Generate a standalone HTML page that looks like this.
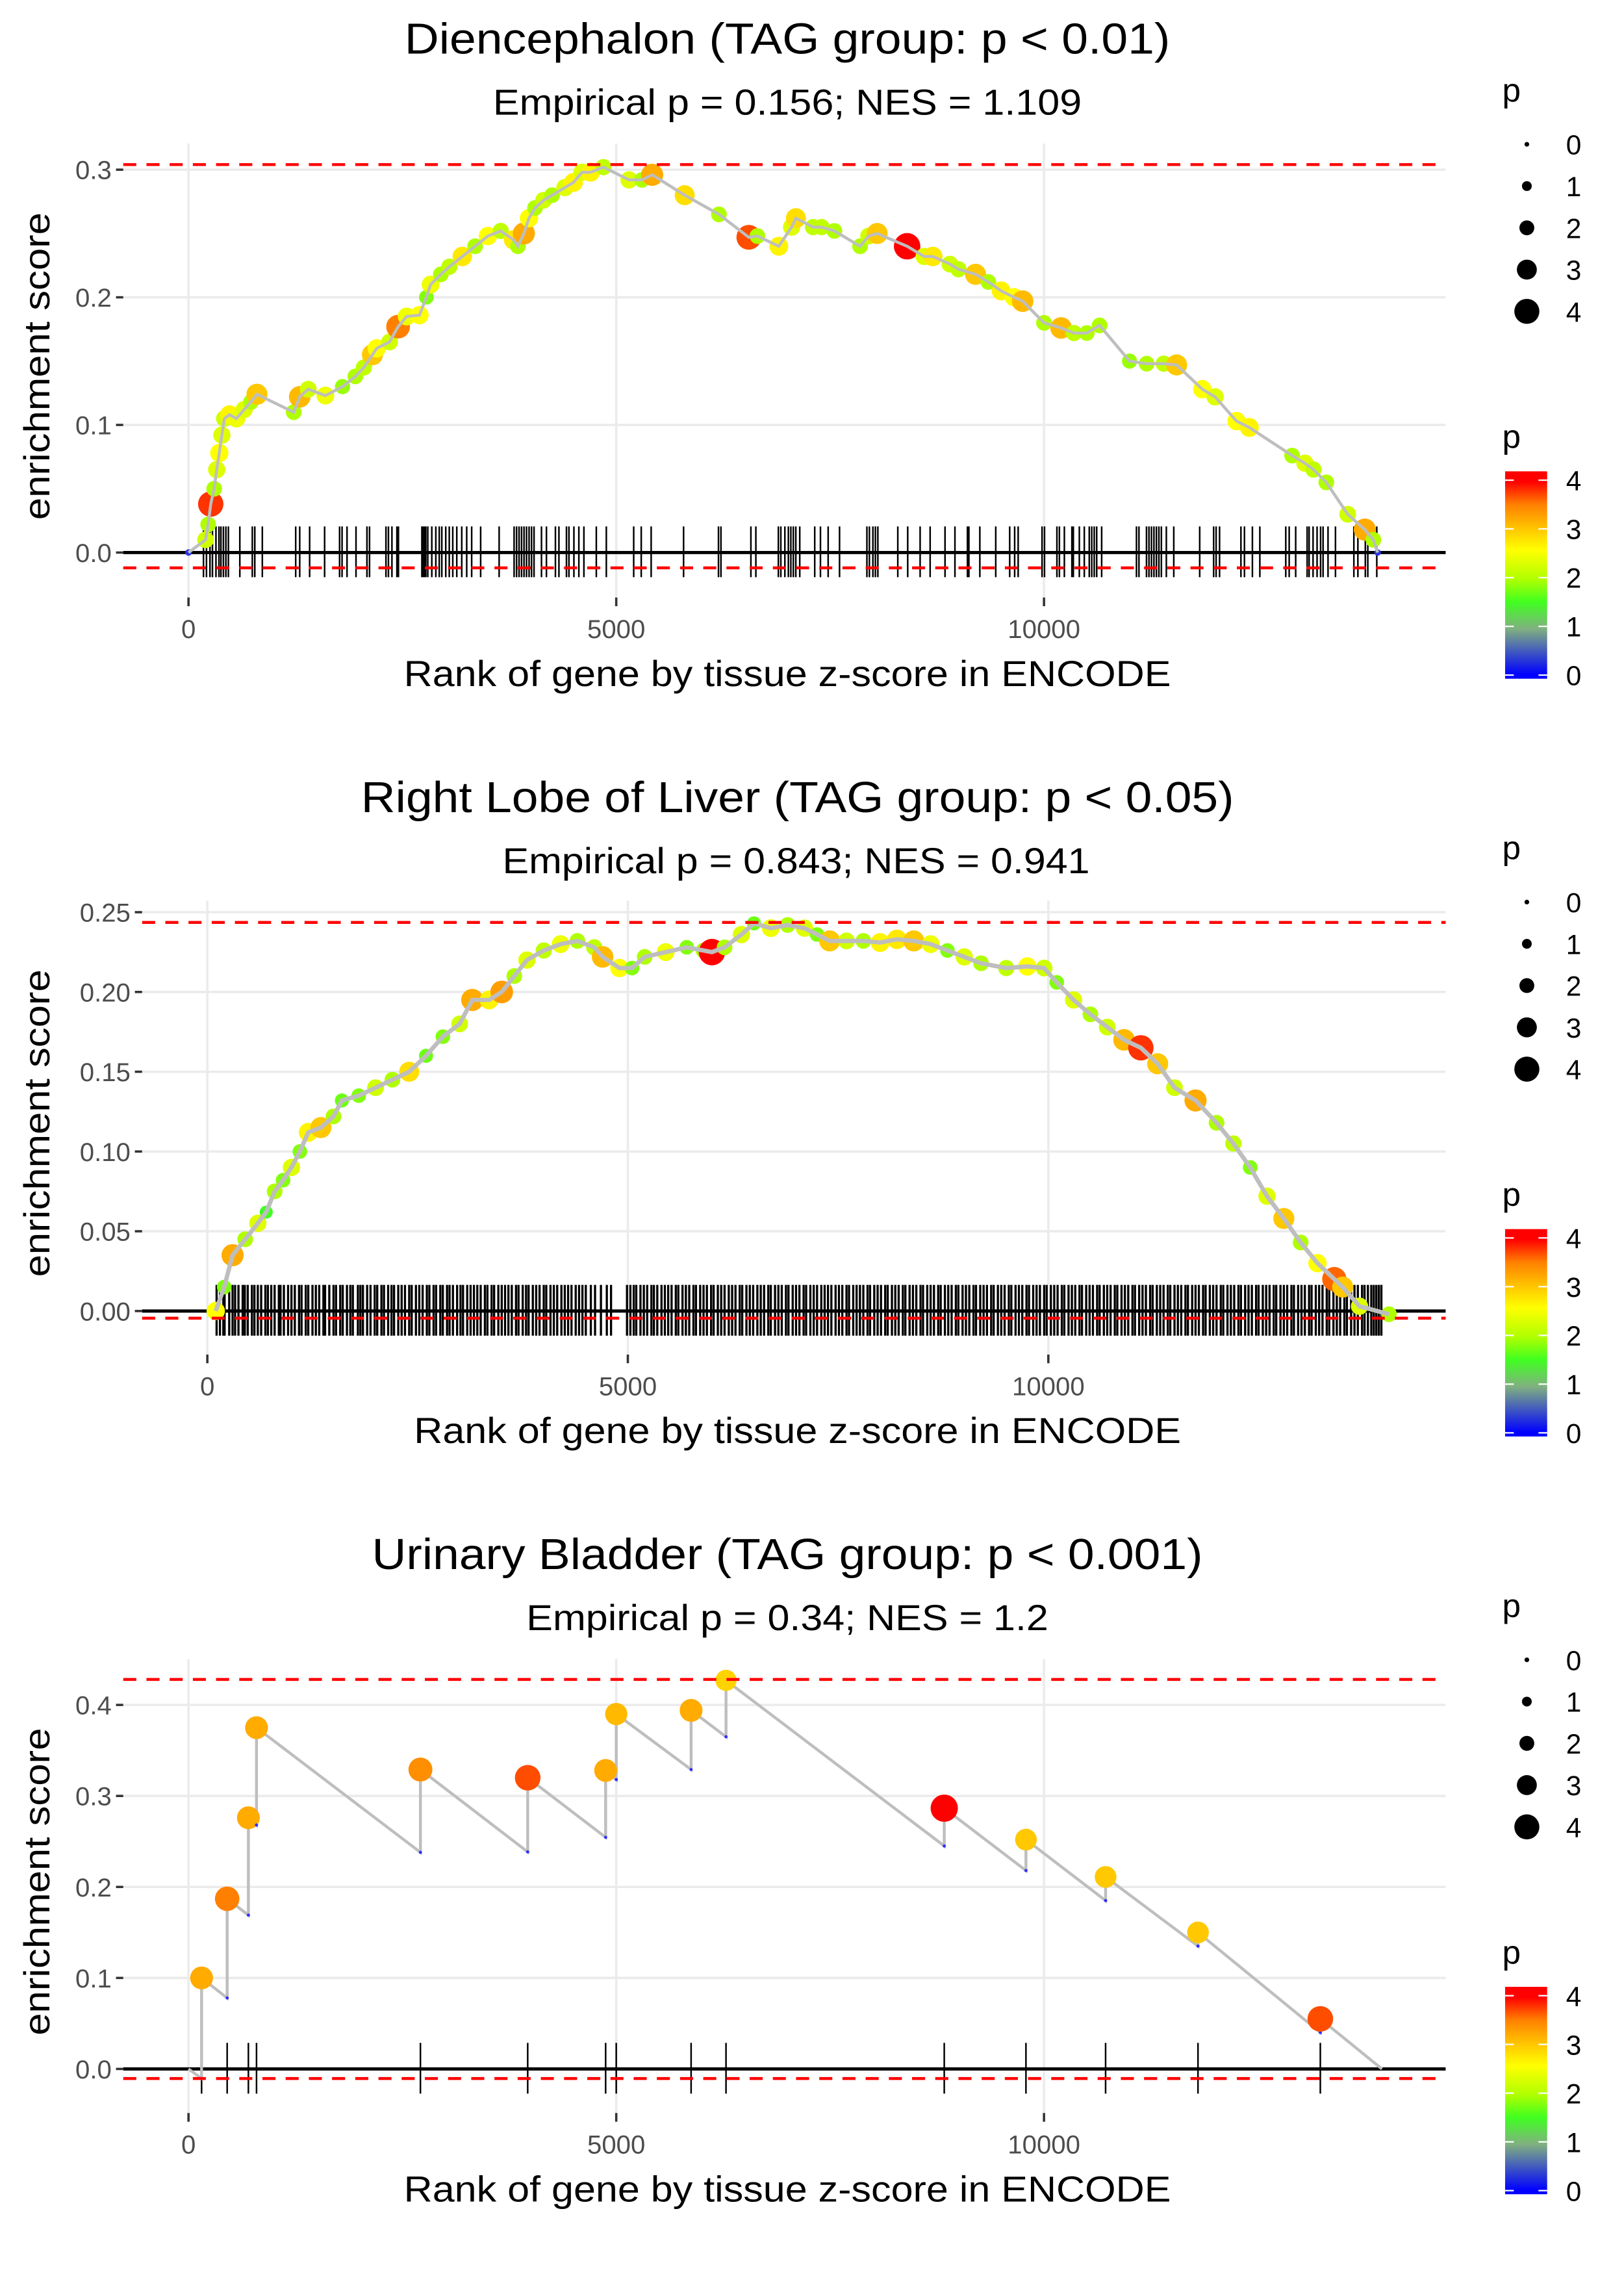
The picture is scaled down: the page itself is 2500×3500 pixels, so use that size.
<!DOCTYPE html>
<html><head><meta charset="utf-8"><title>Enrichment plots</title>
<style>
html,body{margin:0;padding:0;background:#fff;}
svg{display:block;font-family:"Liberation Sans",Arial,sans-serif;}
</style></head>
<body>
<svg id="chart" xmlns="http://www.w3.org/2000/svg" width="2500" height="3500" viewBox="0 0 1120 1568" preserveAspectRatio="none">
<defs>
<linearGradient id="pgrad" x1="0" y1="0" x2="0" y2="1">
<stop offset="0" stop-color="#ff0000"/>
<stop offset="0.05" stop-color="#ff0000"/>
<stop offset="0.16" stop-color="#ff8000"/>
<stop offset="0.28" stop-color="#ffc800"/>
<stop offset="0.38" stop-color="#ffff00"/>
<stop offset="0.52" stop-color="#b0ff00"/>
<stop offset="0.63" stop-color="#40ff20"/>
<stop offset="0.76" stop-color="#80b080"/>
<stop offset="0.98" stop-color="#0000ff"/>
<stop offset="1" stop-color="#0000ff"/>
</linearGradient>
</defs>
</svg>
<script>
// ---------------- Panel 1: Diencephalon ----------------
const p1Ranks = [0,200,230,260,300,330,360,390,420,480,560,650,730,800,1230,1300,1400,1600,1800,1950,2050,2150,2200,2350,2450,2550,2700,2780,2830,2950,3050,3200,3350,3500,3650,3800,3850,3920,3980,4050,4150,4250,4400,4500,4600,4700,4850,5150,5300,5420,5800,6200,6550,6650,6900,7050,7100,7300,7400,7550,7850,7950,8050,8400,8600,8700,8900,9000,9200,9350,9500,9650,9750,10000,10200,10350,10500,10650,11000,11200,11400,11550,11850,12000,12250,12400,12900,13050,13150,13300,13550,13750,13850,13900];
const p1ES = [0,0.01,0.022,0.038,0.05,0.065,0.078,0.092,0.105,0.108,0.105,0.112,0.118,0.124,0.11,0.122,0.128,0.123,0.13,0.138,0.145,0.155,0.16,0.165,0.177,0.185,0.186,0.2,0.21,0.218,0.224,0.232,0.24,0.248,0.252,0.245,0.24,0.25,0.262,0.27,0.276,0.28,0.286,0.29,0.298,0.298,0.302,0.292,0.292,0.296,0.28,0.265,0.247,0.248,0.24,0.255,0.262,0.255,0.255,0.252,0.24,0.248,0.25,0.24,0.232,0.232,0.226,0.222,0.218,0.212,0.205,0.2,0.197,0.18,0.176,0.172,0.172,0.178,0.15,0.148,0.148,0.147,0.128,0.122,0.103,0.098,0.076,0.07,0.065,0.055,0.03,0.018,0.01,0.0];
const p1P = [0.3,2.2,2.0,3.8,2.0,2.3,2.5,2.3,2.2,2.6,2.4,2.3,2.0,3.0,2.0,3.1,2.2,2.4,1.9,2.0,2.1,3.0,2.5,2.2,3.5,2.4,2.5,1.8,2.4,2.0,2.1,2.7,2.0,2.5,2.1,2.7,2.0,3.2,2.5,2.0,2.2,2.0,2.3,2.6,2.3,2.6,2.1,2.3,2.0,3.2,2.8,2.0,3.7,2.0,2.6,2.3,2.8,2.1,2.1,2.0,2.0,2.2,3.0,4.0,2.3,2.7,2.2,2.1,3.0,2.0,2.6,2.5,3.1,2.0,3.1,2.1,2.0,2.0,1.9,2.0,2.1,3.0,2.5,2.3,2.5,2.6,2.0,2.3,2.1,2.0,2.2,3.2,2.0,0.3];
const p1Rug = [175,210,251,280,321,356,379,408,437,466,600,746,775,863,1253,1300,1416,1591,1766,1795,1853,1958,2086,2116,2308,2337,2378,2436,2454,2728,2739,2757,2774,2797,2844,2891,2931,2961,3007,3048,3089,3136,3194,3252,3310,3415,3631,3806,3835,3864,3893,3922,3951,3981,4010,4039,4126,4184,4289,4330,4418,4447,4505,4563,4622,4767,4884,5204,5292,5408,5787,6195,6224,6574,6632,6895,6924,6971,7012,7041,7070,7099,7145,7320,7387,7477,7610,7930,7959,8000,8029,8058,8291,8407,8552,8669,8843,8959,9105,9122,9250,9436,9599,9657,9698,9977,10006,10151,10180,10238,10326,10343,10413,10471,10529,10558,10587,10616,10674,11081,11110,11198,11227,11256,11285,11314,11343,11372,11430,11517,11820,11983,12012,12052,12302,12343,12436,12523,12826,12866,12942,13076,13099,13145,13192,13233,13262,13320,13407,13622,13669,13756,13785,13890];
const p1XTicks = [0,5000,10000];
const p1XLabels = ["0","5000","10000"];
const p1YTicks = [0,0.1,0.2,0.3];
const p1YLabels = ["0.0","0.1","0.2","0.3"];
const p1Ref = [0.304,-0.012];

// ---------------- Panel 2: Right Lobe of Liver ----------------
const p2Ranks = [100,200,300,450,600,700,800,900,1000,1100,1200,1350,1500,1600,1800,2000,2200,2400,2600,2800,3000,3150,3350,3500,3650,3800,4000,4200,4400,4600,4700,4900,5050,5200,5450,5700,5900,6000,6150,6350,6500,6700,6900,7100,7250,7400,7600,7800,8000,8200,8400,8600,8800,9000,9200,9500,9750,9950,10100,10300,10500,10700,10900,11100,11300,11500,11750,12000,12200,12400,12600,12800,13000,13200,13400,13500,13700,14050];
const p2ES = [0.0,0.015,0.035,0.045,0.055,0.062,0.075,0.082,0.09,0.1,0.112,0.115,0.122,0.132,0.135,0.14,0.145,0.15,0.16,0.172,0.18,0.195,0.195,0.2,0.21,0.22,0.226,0.23,0.232,0.228,0.222,0.215,0.215,0.222,0.225,0.228,0.226,0.225,0.228,0.236,0.243,0.24,0.242,0.24,0.236,0.232,0.232,0.232,0.231,0.233,0.232,0.23,0.226,0.222,0.218,0.215,0.216,0.215,0.206,0.195,0.186,0.178,0.17,0.165,0.155,0.14,0.132,0.118,0.105,0.09,0.072,0.058,0.043,0.03,0.02,0.015,0.003,-0.002];
const p2P = [2.5,1.8,3.2,2.0,2.3,1.5,2.0,1.8,2.3,1.8,2.6,3.0,2.0,1.7,1.8,2.2,2.0,2.8,1.7,1.8,2.2,3.2,2.6,3.3,2.0,2.3,2.1,2.4,2.0,2.1,3.1,2.5,1.8,2.0,2.4,1.8,2.0,4.0,2.0,2.3,1.7,2.4,2.0,2.3,1.8,3.0,2.2,2.0,2.6,2.7,3.0,2.4,1.8,2.3,2.0,2.1,2.5,2.2,1.8,2.3,2.0,2.2,3.1,3.8,3.0,2.2,3.2,2.0,2.1,1.8,2.3,3.0,2.0,2.5,3.6,3.0,2.3,2.0];
const p2Rug = [110,150,190,205,260,300,330,370,420,445,480,530,560,600,640,690,720,760,800,850,870,910,960,1000,1040,1090,1120,1170,1200,1250,1290,1330,1380,1400,1450,1500,1530,1580,1610,1660,1700,1730,1790,1820,1850,1900,1940,1990,2020,2070,2100,2150,2190,2220,2270,2310,2350,2400,2430,2480,2520,2560,2610,2640,2690,2720,2770,2800,2850,2880,2920,2970,3010,3040,3090,3130,3170,3210,3250,3300,3330,3380,3410,3460,3500,3540,3580,3620,3670,3700,3750,3790,3820,3870,3910,3950,4000,4030,4080,4120,4160,4210,4250,4290,4330,4380,4420,4460,4500,4560,4610,4680,4750,4800,4990,5030,5070,5100,5150,5190,5230,5280,5310,5350,5400,5440,5480,5520,5570,5600,5650,5690,5730,5780,5810,5860,5900,5940,5990,6020,6070,6110,6150,6200,6240,6280,6330,6360,6410,6450,6490,6540,6580,6620,6670,6700,6750,6790,6830,6880,6910,6960,7000,7040,7090,7120,7170,7210,7250,7300,7340,7380,7420,7470,7510,7550,7600,7630,7680,7720,7760,7800,7850,7880,7930,7970,8010,8060,8090,8140,8180,8220,8270,8300,8350,8390,8430,8480,8510,8560,8600,8640,8690,8720,8770,8810,8850,8900,8930,8980,9020,9060,9110,9140,9190,9230,9270,9320,9350,9400,9440,9480,9530,9560,9610,9650,9690,9740,9770,9820,9860,9900,9950,9980,10030,10070,10110,10160,10190,10240,10280,10320,10370,10400,10450,10490,10530,10580,10610,10660,10700,10740,10790,10820,10870,10910,10950,11000,11030,11080,11120,11160,11210,11240,11290,11330,11370,11420,11450,11500,11540,11580,11630,11660,11710,11750,11790,11840,11870,11920,11960,12000,12050,12080,12130,12170,12210,12260,12290,12340,12380,12420,12470,12500,12550,12590,12630,12680,12710,12760,12800,12840,12890,12920,12970,13010,13050,13100,13130,13180,13220,13260,13310,13340,13390,13430,13470,13520,13550,13600,13640,13680,13730,13760,13800,13840,13870,13900,13930,13960];
const p2XTicks = [0,5000,10000];
const p2XLabels = ["0","5000","10000"];
const p2YTicks = [0,0.05,0.10,0.15,0.20,0.25];
const p2YLabels = ["0.00","0.05","0.10","0.15","0.20","0.25"];
const p2Ref = [0.2436,-0.0045];

// ---------------- Panel 3: Urinary Bladder ----------------
const p3Ranks = [153,452,700,795,2711,3965,4876,5000,5875,6283,8834,9789,10720,11800,13230];
const p3ESTop = [0.10,0.187,0.276,0.375,0.329,0.32,0.328,0.39,0.394,0.427,0.2865,0.252,0.211,0.15,0.055];
const p3ESBefore = [-0.0105,0.078,0.169,0.268,0.238,0.2385,0.2545,0.318,0.329,0.365,0.245,0.218,0.185,0.135,0.04];
const p3P = [3.2,3.5,3.2,3.2,3.4,3.7,3.2,3.1,3.2,2.9,4.0,3.0,3.0,3.0,3.7];
const p3End = [13950,0.0];
const p3XTicks = [0,5000,10000];
const p3XLabels = ["0","5000","10000"];
const p3YTicks = [0,0.1,0.2,0.3,0.4];
const p3YLabels = ["0.0","0.1","0.2","0.3","0.4"];
const p3Ref = [0.428,-0.0105];

// legend data
const legendValues = [0,1,2,3,4];
const legendLabels = ["0","1","2","3","4"];

const NS = "http://www.w3.org/2000/svg";
const svg = document.getElementById("chart");

function mk(tag, attrs, parent){
  const e = document.createElementNS(NS, tag);
  for (const k in attrs) e.setAttribute(k, attrs[k]);
  (parent||svg).appendChild(e);
  return e;
}
const stops = [[0,[0,0,255]],[0.5,[70,90,200]],[1,[128,176,128]],[1.5,[64,255,32]],[2,[176,255,0]],[2.5,[255,255,0]],[3,[255,200,0]],[3.5,[255,128,0]],[4,[255,0,0]]];
function pColor(p){
  p = Math.max(0, Math.min(4, p));
  for (let i=0;i<stops.length-1;i++){
    const a=stops[i], b=stops[i+1];
    if (p<=b[0]){
      const t=(p-a[0])/(b[0]-a[0]);
      const c=a[1].map((v,j)=>Math.round(v+(b[1][j]-v)*t));
      return "rgb("+c.join(",")+")";
    }
  }
  return "rgb(255,0,0)";
}
function pRadius(p){ return 1.8 + 1.95*p; }

function panelFrame(cfg){
  const g = mk("g", {});
  
  
  const X = cfg.X, Y = cfg.Y;
  cfg.yTicks.forEach((v,i)=>{
    const l = mk("line",{x1:cfg.left,x2:cfg.right,y1:Y(v),y2:Y(v),stroke:"#ebebeb","stroke-width":1.6},g);
    
    
  });
  cfg.xTicks.forEach((v,i)=>{
    const l = mk("line",{x1:X(v),x2:X(v),y1:cfg.top,y2:cfg.bottom,stroke:"#ebebeb","stroke-width":1.6},g);
    
    
  });
  cfg.yTicks.forEach((v,i)=>{
    mk("line",{x1:cfg.left-5,x2:cfg.left,y1:Y(v),y2:Y(v),stroke:"#333","stroke-width":1.6},g);
    const t = mk("text",{x:cfg.left-8,y:Y(v)+6.5,"text-anchor":"end","font-size":18,fill:"#4d4d4d"},g);
    t.textContent = cfg.yLabels[i];
    
    
  });
  cfg.xTicks.forEach((v,i)=>{
    mk("line",{x1:X(v),x2:X(v),y1:cfg.bottom,y2:cfg.bottom+6,stroke:"#333","stroke-width":1.6},g);
    const t = mk("text",{x:X(v),y:cfg.bottom+28,"text-anchor":"middle","font-size":18,fill:"#4d4d4d"},g);
    t.textContent = cfg.xLabels[i];
    
    
  });
  const tt = mk("text",{x:cfg.titleX,y:cfg.titleY,"text-anchor":"middle","font-size":30,fill:"#000",textLength:cfg.titleW,lengthAdjust:"spacingAndGlyphs"},g);
  tt.textContent = cfg.title;
  
  
  const st = mk("text",{x:cfg.subX,y:cfg.titleY+42,"text-anchor":"middle","font-size":25,fill:"#000",textLength:cfg.subW,lengthAdjust:"spacingAndGlyphs"},g);
  st.textContent = cfg.subtitle;
  
  
  const xt = mk("text",{x:cfg.xtX,y:cfg.bottom+61,"text-anchor":"middle","font-size":25,fill:"#000",textLength:529,lengthAdjust:"spacingAndGlyphs"},g);
  xt.textContent = "Rank of gene by tissue z-score in ENCODE";
  
  
  const cy = (cfg.top+cfg.bottom)/2 - 3;
  const yt = mk("text",{x:0,y:0,"text-anchor":"middle","font-size":25,fill:"#000",transform:"translate(34,"+cy+") rotate(-90)",textLength:212,lengthAdjust:"spacingAndGlyphs"},g);
  yt.textContent = "enrichment score";
  
  
  const z = mk("line",{x1:cfg.left,x2:cfg.right,y1:Y(0),y2:Y(0),stroke:"#000","stroke-width":2.2},g);
  
  
  cfg.rug.forEach(r=>{
    const l = mk("line",{x1:X(r),x2:X(r),y1:Y(0)-18,y2:Y(0)+17,stroke:"#000","stroke-width":cfg.rugW},g);
    
    
  });
  return g;
}
function refLines(cfg,g){
  cfg.ref.forEach(v=>{
    const l = mk("line",{x1:cfg.left,x2:cfg.right,y1:cfg.Y(v),y2:cfg.Y(v),stroke:"#ff0000","stroke-width":2,"stroke-dasharray":"9 7"},g);
    
    
  });
}
function legend(off){
  const g = mk("g",{});
  
  
  const t1 = mk("text",{x:1036,y:off+70,"font-size":23,fill:"#000"},g);
  t1.textContent = "p";
  
  
  legendValues.forEach((v,i)=>{
    const y = off + 99.5 + i*28.8;
    const c = mk("circle",{cx:1053,cy:y,r:Math.max(1.3,pRadius(v)*0.9),fill:"#000"},g);
    
    
    const t = mk("text",{x:1080,y:y+7,"font-size":19,fill:"#000"},g);
    t.textContent = legendLabels[i];
    
    
  });
  const t2 = mk("text",{x:1036,y:off+309,"font-size":23,fill:"#000"},g);
  t2.textContent = "p";
  
  
  const bar = mk("rect",{x:1038,y:off+325,width:29,height:143,fill:"url(#pgrad)"},g);
  
  
  legendValues.forEach((v,i)=>{
    const y = off + 465.5 - v*33.6;
    mk("line",{x1:1038,x2:1044,y1:y,y2:y,stroke:"#fff","stroke-width":1},g);
    mk("line",{x1:1061,x2:1067,y1:y,y2:y,stroke:"#fff","stroke-width":1},g);
    const t = mk("text",{x:1080,y:y+7,"font-size":19,fill:"#000"},g);
    t.textContent = legendLabels[i];
    
    
  });
}

// ---- Panel 1 ----
const cfg1 = {name:"panel-diencephalon", left:85, right:997, top:99, bottom:412,
  X:r=>130+r*0.059, Y:v=>381-v*880, xTicks:p1XTicks, xLabels:p1XLabels, yTicks:p1YTicks, yLabels:p1YLabels,
  rug:p1Rug, rugW:1.1, ref:p1Ref, title:"Diencephalon (TAG group: p < 0.01)", titleX:543, titleW:528, titleY:37,
  subtitle:"Empirical p = 0.156; NES = 1.109", subX:543, subW:406, xtX:543};
const g1 = panelFrame(cfg1);
{
  const pts = p1Ranks.map((r,i)=>cfg1.X(r)+","+cfg1.Y(p1ES[i])).join(" ");
  const pl = mk("polyline",{points:pts,fill:"none",stroke:"#bebebe","stroke-width":2},g1);
  
  
  p1Ranks.forEach((r,i)=>{
    const c = mk("circle",{cx:cfg1.X(r),cy:cfg1.Y(p1ES[i]),r:pRadius(p1P[i])*0.95,fill:pColor(p1P[i])},g1);
    
    
  });
  mk("polyline",{points:pts,fill:"none",stroke:"#bebebe","stroke-width":2},g1);
  refLines(cfg1,g1);
}
legend(0);

// ---- Panel 2 ----
const cfg2 = {name:"panel-right-lobe-of-liver", left:98, right:997, top:621, bottom:934,
  X:r=>143+r*0.058, Y:v=>904-v*1100, xTicks:p2XTicks, xLabels:p2XLabels, yTicks:p2YTicks, yLabels:p2YLabels,
  rug:p2Rug, rugW:1.5, ref:p2Ref, title:"Right Lobe of Liver (TAG group: p < 0.05)", titleX:550, titleW:602, titleY:560,
  subtitle:"Empirical p = 0.843; NES = 0.941", subX:549, subW:405, xtX:550};
const g2 = panelFrame(cfg2);
{
  const pts = p2Ranks.map((r,i)=>cfg2.X(r)+","+cfg2.Y(p2ES[i])).join(" ");
  const pl = mk("polyline",{points:pts,fill:"none",stroke:"#bebebe","stroke-width":2},g2);
  
  
  p2Ranks.forEach((r,i)=>{
    const c = mk("circle",{cx:cfg2.X(r),cy:cfg2.Y(p2ES[i]),r:pRadius(p2P[i])*0.95,fill:pColor(p2P[i])},g2);
    
    
  });
  mk("polyline",{points:pts,fill:"none",stroke:"#bebebe","stroke-width":3},g2);
  refLines(cfg2,g2);
}
legend(522.5);

// ---- Panel 3 ----
const cfg3 = {name:"panel-urinary-bladder", left:85, right:997, top:1144, bottom:1457,
  X:r=>130+r*0.059, Y:v=>1426.6-v*627.5, xTicks:p3XTicks, xLabels:p3XLabels, yTicks:p3YTicks, yLabels:p3YLabels,
  rug:p3Ranks, rugW:1.1, ref:p3Ref, title:"Urinary Bladder (TAG group: p < 0.001)", titleX:543, titleW:573, titleY:1082,
  subtitle:"Empirical p = 0.34; NES = 1.2", subX:543, subW:360, xtX:543};
const g3 = panelFrame(cfg3);
{
  let pts = [cfg3.X(0)+","+cfg3.Y(0)];
  p3Ranks.forEach((r,i)=>{
    pts.push(cfg3.X(r)+","+cfg3.Y(p3ESBefore[i]));
    pts.push(cfg3.X(r)+","+cfg3.Y(p3ESTop[i]));
  });
  pts.push(cfg3.X(p3End[0])+","+cfg3.Y(p3End[1]));
  const pl = mk("polyline",{points:pts.join(" "),fill:"none",stroke:"#bebebe","stroke-width":2},g3);
  
  
  p3Ranks.forEach((r,i)=>{
    const b = mk("circle",{cx:cfg3.X(r),cy:cfg3.Y(p3ESBefore[i]),r:1.1,fill:"#3030ff"},g3);
    
    
    const c = mk("circle",{cx:cfg3.X(r),cy:cfg3.Y(p3ESTop[i]),r:pRadius(p3P[i])*0.98,fill:pColor(p3P[i])},g3);
    
    
  });
  refLines(cfg3,g3);
}
legend(1045);
</script>
</body></html>
